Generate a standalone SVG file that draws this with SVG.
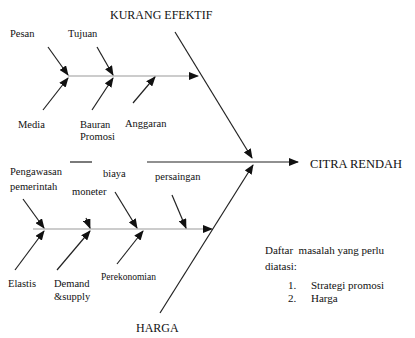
<svg xmlns="http://www.w3.org/2000/svg" width="415" height="338" viewBox="0 0 415 338" font-family="Liberation Serif, Times New Roman, serif">
<defs>
<style>
text{fill:#111}
.s{font-size:10.5px}
.m{font-size:12px}
.l{stroke:#222;stroke-width:1.2;fill:none}
.g{stroke:#999;stroke-width:1.2;fill:none}
.a{marker-end:url(#ah)}
</style>
<marker id="ah" markerWidth="10" markerHeight="8" refX="9" refY="4" orient="auto" markerUnits="userSpaceOnUse">
<path d="M0,0 L10,4 L0,8 Z" fill="#111"/>
</marker>
</defs>
<rect width="415" height="338" fill="#fff"/>
<g id="connectors">
<line class="l" x1="70" y1="162" x2="92" y2="162"/>
<line class="l a" x1="147" y1="162" x2="298" y2="162"/>
<line class="l a" x1="175" y1="32" x2="252" y2="158"/>
<line class="l a" x1="160" y1="313" x2="253" y2="165"/>
<line class="g a" x1="68" y1="76" x2="198" y2="76"/>
<line class="l a" x1="48" y1="47" x2="68" y2="75"/>
<line class="l a" x1="97" y1="47" x2="113" y2="75"/>
<line class="l a" x1="43" y1="110" x2="68" y2="78"/>
<line class="l a" x1="92" y1="110" x2="113" y2="78"/>
<line class="l a" x1="133" y1="103" x2="155" y2="77"/>
<line class="g a" x1="33" y1="229" x2="212" y2="229"/>
<line class="l a" x1="23" y1="199" x2="44" y2="228"/>
<line class="l a" x1="86" y1="218" x2="90" y2="228"/>
<line class="l a" x1="115" y1="192" x2="137" y2="228"/>
<line class="l a" x1="172" y1="195" x2="186" y2="228"/>
<line class="l a" x1="15" y1="270" x2="44" y2="231"/>
<line class="l a" x1="57" y1="270" x2="90" y2="231"/>
<line class="l a" x1="117" y1="264" x2="143" y2="231"/>
</g>
<g id="kurang-efektif"><text class="m" x="110" y="19">KURANG EFEKTIF</text></g>
<g id="citra-rendah"><text x="310" y="168" style="font-size:12.5px">CITRA RENDAH</text></g>
<g id="harga"><text class="m" x="136" y="332">HARGA</text></g>
<g id="pesan"><text class="s" x="10" y="37">Pesan</text></g>
<g id="tujuan"><text class="s" x="68" y="37">Tujuan</text></g>
<g id="media"><text class="s" x="18" y="128">Media</text></g>
<g id="bauran"><text class="s" x="80" y="128">Bauran</text><text class="s" x="80" y="140">Promosi</text></g>
<g id="anggaran"><text class="s" x="125" y="127">Anggaran</text></g>
<g id="pengawasan"><text class="s" x="10" y="175">Pengawasan</text><text class="s" x="10" y="190">pemerintah</text></g>
<g id="moneter"><text class="s" x="72" y="195">moneter</text></g>
<g id="biaya"><text class="s" x="103" y="177">biaya</text></g>
<g id="persaingan"><text class="s" x="155" y="180">persaingan</text></g>
<g id="elastis"><text class="s" x="8" y="287">Elastis</text></g>
<g id="demand"><text class="s" x="54" y="287">Demand</text><text class="s" x="54" y="300">&amp;supply</text></g>
<g id="perekonomian"><text x="101" y="280" style="font-size:9.5px">Perekonomian</text></g>
<g id="daftar">
<text x="265" y="254" style="font-size:11px;white-space:pre">Daftar  masalah yang perlu</text>
<text x="265" y="270" style="font-size:11px">diatasi:</text>
<text x="288" y="289" style="font-size:11px">1.</text>
<text x="311" y="289" style="font-size:11px">Strategi promosi</text>
<text x="288" y="302" style="font-size:11px">2.</text>
<text x="311" y="302" style="font-size:11px">Harga</text>
</g>
</svg>
